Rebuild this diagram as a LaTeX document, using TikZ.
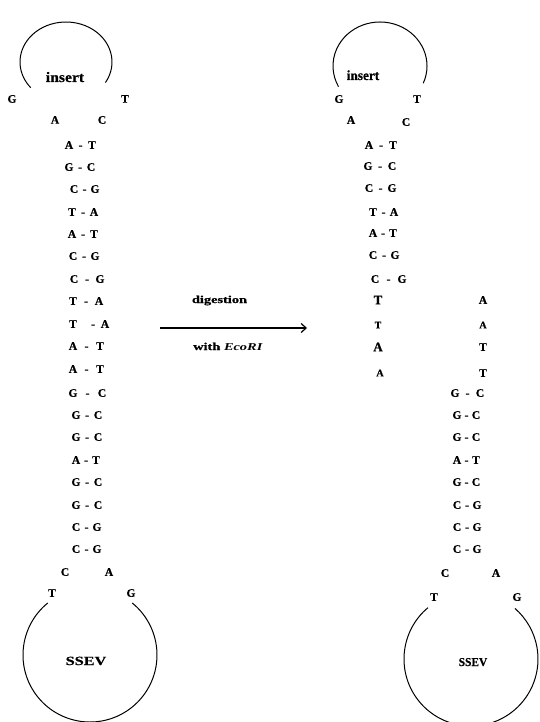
\documentclass[tikz,border=0pt]{standalone}
\usepackage{fontspec}
\setmainfont{Liberation Serif}[BoldFeatures={FakeBold=0.6}]
\usepackage{graphicx}
\usetikzlibrary{arrows.meta}
\begin{document}
\begin{tikzpicture}[x=1pt,y=-1pt,
  nt/.style={inner sep=0pt, anchor=base, font=\bfseries\fontsize{11.5}{13}\selectfont},
  ntbig/.style={nt, font=\bfseries\fontsize{13}{15}\selectfont},
  ntsmall/.style={nt, font=\bfseries\fontsize{10}{11}\selectfont},
  lbl/.style={inner sep=0pt, anchor=base},
  loopline/.style={line width=1pt},
  ]
\useasboundingbox (0,0) rectangle (539,722);

% ---------------- left structure ----------------
\coordinate (c1) at (66,62);
\draw[loopline] ([shift={(-31:46pt and 40pt)}]c1) arc[start angle=-31, end angle=220, x radius=46pt, y radius=40pt];
\node[lbl, font=\bfseries\fontsize{14.5}{17}\selectfont] (ins1) at (65,82) {\scalebox{1.08}[1]{insert}};
\node[nt] (lG0) at (12,102.7) {G};
\node[nt] (lT0) at (125,102.7) {T};
\node[nt] (lA0) at (55,123.7) {A};
\node[nt] (lC0) at (102,123.7) {C};

\foreach \y/\l/\lx/\r/\rx/\dx [count=\i] in {
 145/A/69/T/92/80.5, 167/G/69/C/91/80, 189/C/74/G/95/84.5, 212/T/72/A/94/83,
 234/A/72/T/94/83, 256/C/73/G/95/84, 279/C/74/G/100/87, 301/T/73/A/99/86,
 324/T/73/A/105/93, 346/A/73/T/100/86.5, 369/A/73/T/100/86.5, 393/G/73/C/102/87.5,
 415/G/76/C/98/87, 437/G/76/C/98/87, 460/A/76/T/96/86, 482/G/76/C/98/87,
 505/G/76/C/98/87, 527/C/76/G/97/86.5, 549/C/76/G/97/86.5} {
  \node[nt] (LL\i) at (\lx,{\y+3.8}) {\l};
  \node[nt] (LR\i) at (\rx,{\y+3.8}) {\r};
  \node[nt] (LD\i) at (\dx,{\y+3.8}) {-};
}

\node[nt] (lCb) at (65,575.8) {C};
\node[nt] (lAb) at (109,575.8) {A};
\node[nt] (lTb) at (52,596.8) {T};
\node[nt] (lGb) at (131,596.8) {G};

\coordinate (c3) at (90,655);
\draw[loopline] ([shift={(129:67pt)}]c3) arc[start angle=129, end angle=411, radius=67pt];
\node[lbl, font=\bfseries\fontsize{12.5}{14}\selectfont] (ssev1) at (86,665) {\scalebox{1.3}[1]{SSEV}};

% ---------------- arrow ----------------
\node[lbl, font=\bfseries\fontsize{10.5}{12}\selectfont] (dig) at (219.5,303) {\scalebox{1.37}[1]{digestion}};
\coordinate (a1) at (160,328);
\coordinate (a2) at (307,328);
\draw[line width=1.2pt, -{Straight Barb[length=5pt,width=9pt]}] (a1) -- (a2);
\node[lbl, font=\bfseries\fontsize{10.5}{12}\selectfont] (with) at (228,350) {\scalebox{1.37}[1]{with \textit{EcoRI}}};

% ---------------- right structure ----------------
\coordinate (c2) at (380,66);
\draw[loopline] ([shift={(-23:47pt and 44pt)}]c2) arc[start angle=-23, end angle=208, x radius=47pt, y radius=44pt];
\node[lbl, font=\bfseries\fontsize{14}{16}\selectfont] (ins2) at (363,80) {\scalebox{0.95}[1]{insert}};
\node[nt] (rG0) at (339,102.8) {G};
\node[nt] (rT0) at (417,102.8) {T};
\node[nt] (rA0) at (351,123.8) {A};
\node[nt] (rC0) at (406,125.8) {C};

\foreach \y/\l/\lx/\r/\rx [count=\i] in {
 145/A/369/T/393, 166/G/368/C/392, 188/C/369/G/392, 212/T/373/A/394,
 233/A/373/T/393, 255/C/373/G/395, 279/C/375/G/402} {
  \node[nt] (RL\i) at (\lx,{\y+3.8}) {\l};
  \node[nt] (RR\i) at (\rx,{\y+3.8}) {\r};
  \node[nt] (RD\i) at ({(\lx+\rx)/2},{\y+3.8}) {-};
}

\node[ntbig] (s1) at (378,304.3) {T};
\node[ntsmall] (s2) at (378,328.3) {T};
\node[ntbig] (s3) at (378,351.3) {A};
\node[ntsmall] (s4) at (380,376.3) {A};
\node[nt] (s5) at (483,303.8) {A};
\node[ntsmall] (s6) at (483,328.3) {A};
\node[nt] (s7) at (483,350.8) {T};
\node[nt] (s8) at (483,376.8) {T};

\foreach \y/\l/\lx/\r/\rx [count=\i] in {
 393/G/455/C/480, 415/G/457/C/476, 437/G/457/C/476, 460/A/457/T/476,
 482/G/457/C/476, 505/C/457/G/477, 527/C/457/G/477, 549/C/457/G/477} {
  \node[nt] (BL\i) at (\lx,{\y+3.8}) {\l};
  \node[nt] (BR\i) at (\rx,{\y+3.8}) {\r};
  \node[nt] (BD\i) at ({(\lx+\rx)/2},{\y+3.8}) {-};
}

\node[nt] (rCb) at (445,576.8) {C};
\node[nt] (rAb) at (496,576.8) {A};
\node[nt] (rTb) at (434,600.8) {T};
\node[nt] (rGb) at (517,600.8) {G};

\coordinate (c4) at (471,659);
\draw[loopline] ([shift={(130:67pt)}]c4) arc[start angle=130, end angle=409, radius=67pt];
\node[lbl, font=\bfseries\fontsize{12}{14}\selectfont] (ssev2) at (473,666) {\scalebox{0.95}[1]{SSEV}};
\end{tikzpicture}
\end{document}
